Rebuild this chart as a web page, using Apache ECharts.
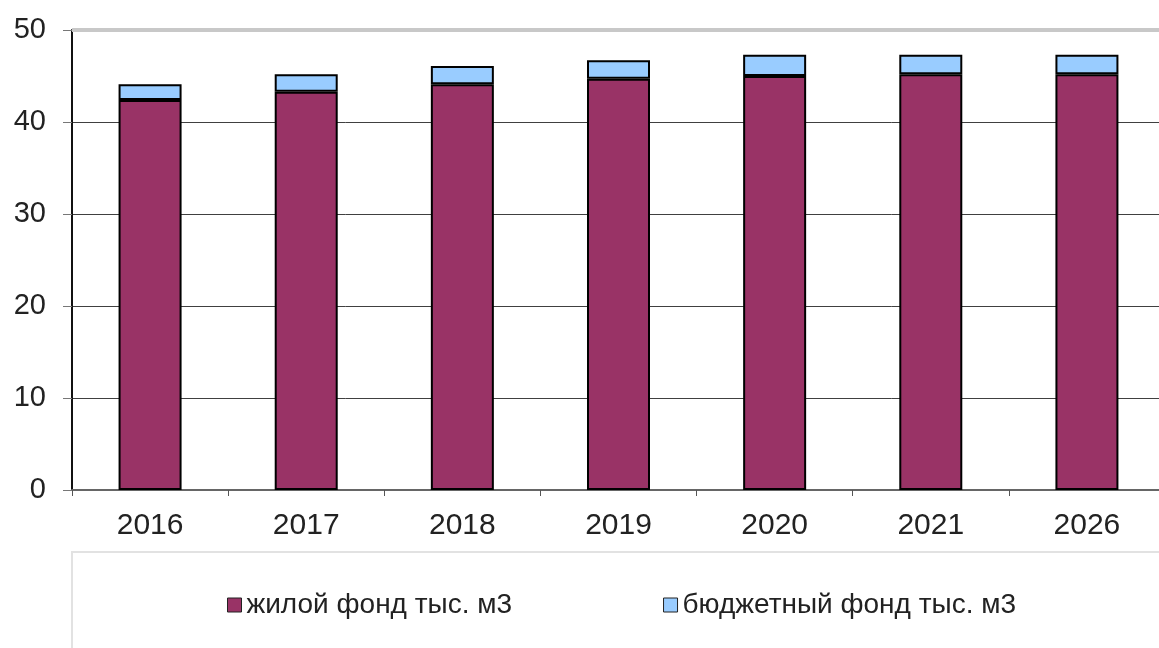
<!DOCTYPE html>
<html>
<head>
<meta charset="utf-8">
<script src="https://cdn.jsdelivr.net/npm/echarts@6/dist/echarts.min.js"></script>
<style>
	html, body { margin: 0; padding: 0; background: #fff; overflow: hidden; }
	#main { width: 1170px; height: 648px; }
</style>
</head>
<body>
<div id="main"></div>
<script>
// годы и значения (стопка: жилой + бюджетный)
let years = ['2016', '2017', '2018', '2019', '2020', '2021', '2026']
let housing = [42.4, 43.3, 44.1, 44.7, 45.0, 45.2, 45.2]
let budget = [1.7, 1.9, 2.0, 2.0, 2.3, 2.1, 2.1]
let seriesNames = ['жилой фонд тыс. м3', 'бюджетный фонд тыс. м3']

let font = 'Liberation Sans, Arial, sans-serif'

// контейнер чуть шире окна: область графика в оригинале уходит за правый край
let myChart = echarts.init(document.getElementById('main'))

let option = {
	animation: false,
	backgroundColor: '#fff',
	textStyle: { fontFamily: font },
	grid: {
		left: 72,
		top: 30,
		width: 1093,
		height: 460
	},
	legend: {
		data: seriesNames,
		left: 222,
		top: 586,
		itemWidth: 14,
		itemHeight: 14,
		itemGap: 151,
		icon: 'rect',
		itemStyle: { borderColor: '#222', borderWidth: 1 },
		textStyle: { fontFamily: font, fontSize: 28, color: '#222' }
	},
	xAxis: {
		type: 'category',
		data: years,
		axisLine: { lineStyle: { color: '#666', width: 2 } },
		axisTick: { show: true, length: 6, lineStyle: { color: '#555', width: 1 } },
		axisLabel: { fontFamily: font, fontSize: 30, color: '#222', margin: 21 }
	},
	yAxis: {
		type: 'value',
		min: 0,
		max: 50,
		interval: 10,
		axisLine: { show: true, lineStyle: { color: '#111', width: 2 } },
		axisTick: { show: true, length: 9, lineStyle: { color: '#777', width: 1 } },
		axisLabel: { fontFamily: font, fontSize: 29, color: '#222', margin: 26 },
		splitLine: { show: true, lineStyle: { color: '#404040', width: 1 } }
	},
	graphic: [{
		type: 'polyline',
		shape: { points: [[72, 648], [72, 552], [1170, 552]] },
		style: { stroke: '#e2e2e2', lineWidth: 2, fill: null }
	}],
	series: [{
			name: seriesNames[0],
			type: 'bar',
			stack: 'total',
			data: housing,
			barWidth: 63,
			itemStyle: { color: '#993366', borderColor: '#000', borderWidth: 2 },
			markLine: {
				silent: true,
				symbol: 'none',
				label: { show: false },
				lineStyle: { color: '#c8c8c8', width: 4, type: 'solid' },
				data: [{ yAxis: 50 }]
			}
		},
		{
			name: seriesNames[1],
			type: 'bar',
			stack: 'total',
			data: budget,
			barWidth: 63,
			itemStyle: { color: '#99ccff', borderColor: '#000', borderWidth: 2 }
		}
	]
}

myChart.setOption(option)
</script>
</body>
</html>
